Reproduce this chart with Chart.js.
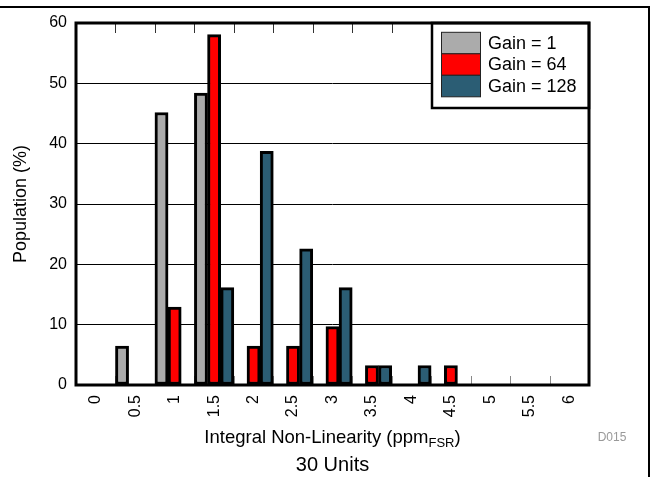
<!DOCTYPE html>
<html><head><meta charset="utf-8">
<script src="https://cdn.jsdelivr.net/npm/chart.js@4.4.1/dist/chart.umd.min.js"></script>
<style>html,body{margin:0;padding:0;background:#fff}#wrap{width:652px;height:477px;position:relative}</style>
</head><body><div id="wrap"><canvas id="c" width="652" height="477"></canvas></div>
<script>
const categories = ['0','0.5','1','1.5','2','2.5','3','3.5','4','4.5','5','5.5','6'];
const gain1   = [0, 6.45, 45.16, 48.39, 0, 0, 0, 0, 0, 0, 0, 0, 0];
const gain64  = [0, 0, 12.90, 58.06, 6.45, 6.45, 9.68, 3.23, 0, 3.23, 0, 0, 0];
const gain128 = [0, 0, 0, 16.13, 38.71, 22.58, 16.13, 3.23, 3.23, 0, 0, 0, 0];
const seriesLabels = ['Gain = 1', 'Gain = 64', 'Gain = 128'];
const seriesColors = ['#ababab', '#ff0000', '#2b5d74'];
const yTickValues = [0, 10, 20, 30, 40, 50, 60];
const yTitle = 'Population (%)';
const xTitleMain = 'Integral Non-Linearity (ppm';
const xTitleSub = 'FSR';
const xTitleEnd = ')';
const subTitle = '30 Units';
const figId = 'D015';

const FONT = '"Liberation Sans", Arial, sans-serif';

const decor = {
  id: 'decor',
  beforeDatasetsDraw(chart) {
    const {ctx, chartArea: a, scales: {x}} = chart;
    const w = x.getPixelForValue(1) - x.getPixelForValue(0);
    ctx.save();
    ctx.strokeStyle = '#888';
    ctx.lineWidth = 1;
    for (let i = 1; i < categories.length; i++) {
      const px = Math.round(x.getPixelForValue(i) - w / 2) + 0.5;
      ctx.beginPath(); ctx.moveTo(px, a.bottom); ctx.lineTo(px, a.bottom - 9); ctx.stroke();
    }
    ctx.restore();
  },
  afterDraw(chart) {
    const {ctx, chartArea: a, scales: {x}} = chart;
    const w = x.getPixelForValue(1) - x.getPixelForValue(0);
    ctx.save();
    // top ticks
    ctx.strokeStyle = '#333';
    ctx.lineWidth = 1;
    for (let i = 1; i < categories.length; i++) {
      const px = Math.round(x.getPixelForValue(i) - w / 2) + 0.5;
      ctx.beginPath(); ctx.moveTo(px, a.top); ctx.lineTo(px, a.top + 10); ctx.stroke();
    }
    // legend
    const lx = 432, ly = a.top, lr = a.right, lb = 108;
    ctx.fillStyle = '#fff';
    ctx.fillRect(lx, ly, lr - lx, lb - ly);
    ctx.strokeStyle = '#000';
    ctx.lineWidth = 2.5;
    ctx.strokeRect(lx, ly, lr - lx, lb - ly);
    const sh = 21.5;
    chart.data.datasets.forEach((ds, i) => {
      const sy = 32.3 + i * sh;
      ctx.fillStyle = ds.backgroundColor;
      ctx.fillRect(441, sy, 39, sh);
      ctx.strokeStyle = '#222';
      ctx.lineWidth = 1;
      ctx.strokeRect(441.5, sy, 39, sh);
      ctx.fillStyle = '#000';
      ctx.font = '18px ' + FONT;
      ctx.textAlign = 'left';
      ctx.textBaseline = 'middle';
      ctx.fillText(ds.label, 488, sy + sh / 2 + 0.5);
    });
    // plot border
    ctx.strokeStyle = '#000';
    ctx.lineWidth = 3;
    ctx.strokeRect(a.left, a.top, a.right - a.left, a.bottom - a.top);
    // y title
    ctx.fillStyle = '#000';
    ctx.font = '18px ' + FONT;
    ctx.save();
    ctx.translate(21, (a.top + a.bottom) / 2);
    ctx.rotate(-Math.PI / 2);
    ctx.textAlign = 'center';
    ctx.textBaseline = 'middle';
    ctx.fillText(yTitle, 0, 0);
    ctx.restore();
    // x title with subscript
    const cx = (a.left + a.right) / 2;
    const ty = 438;
    ctx.font = '18.5px ' + FONT;
    const w1 = ctx.measureText(xTitleMain).width;
    const w3 = ctx.measureText(xTitleEnd).width;
    ctx.font = '13px ' + FONT;
    const w2 = ctx.measureText(xTitleSub).width;
    let sx = cx - (w1 + w2 + w3) / 2;
    ctx.textAlign = 'left';
    ctx.textBaseline = 'middle';
    ctx.font = '18.5px ' + FONT;
    ctx.fillText(xTitleMain, sx, ty);
    ctx.font = '13px ' + FONT;
    ctx.fillText(xTitleSub, sx + w1, ty + 5);
    ctx.font = '18.5px ' + FONT;
    ctx.fillText(xTitleEnd, sx + w1 + w2, ty);
    // subtitle
    ctx.textAlign = 'center';
    ctx.font = '20px ' + FONT;
    ctx.fillText(subTitle, cx, 465);
    // figure id
    ctx.fillStyle = '#999';
    ctx.font = '12px ' + FONT;
    ctx.fillText(figId, 612, 438);
    // outer frame
    ctx.strokeStyle = '#000';
    ctx.lineWidth = 2;
    ctx.beginPath();
    ctx.moveTo(0, 7); ctx.lineTo(649, 7); ctx.lineTo(649, 477);
    ctx.stroke();
    ctx.restore();
  }
};

new Chart(document.getElementById('c'), {
  type: 'bar',
  data: {
    labels: categories,
    datasets: [gain1, gain64, gain128].map((d, i) => ({
      label: seriesLabels[i],
      data: d,
      backgroundColor: seriesColors[i],
      borderColor: '#000',
      borderWidth: 3,
      borderSkipped: false,
      categoryPercentage: 1,
      barPercentage: 1
    }))
  },
  options: {
    responsive: false,
    animation: false,
    events: [],
    layout: {padding: {left: 0, top: 23, right: 63, bottom: 0}},
    plugins: {legend: {display: false}, tooltip: {enabled: false}, title: {display: false}},
    scales: {
      x: {
        grid: {display: false},
        border: {display: false},
        ticks: {
          autoSkip: false, minRotation: 90, maxRotation: 90,
          color: '#000', font: {family: FONT, size: 16}, padding: 2
        },
        afterFit(s) { s.height = 92; }
      },
      y: {
        min: 0, max: 60,
        afterBuildTicks(s) { s.ticks = yTickValues.map(v => ({value: v})); },
        grid: {color: '#000', lineWidth: 1, drawTicks: false},
        border: {display: false},
        ticks: {color: '#000', font: {family: FONT, size: 16}, padding: 9},
        afterFit(s) { s.width = 76; }
      }
    }
  },
  plugins: [decor]
});
</script></body></html>
